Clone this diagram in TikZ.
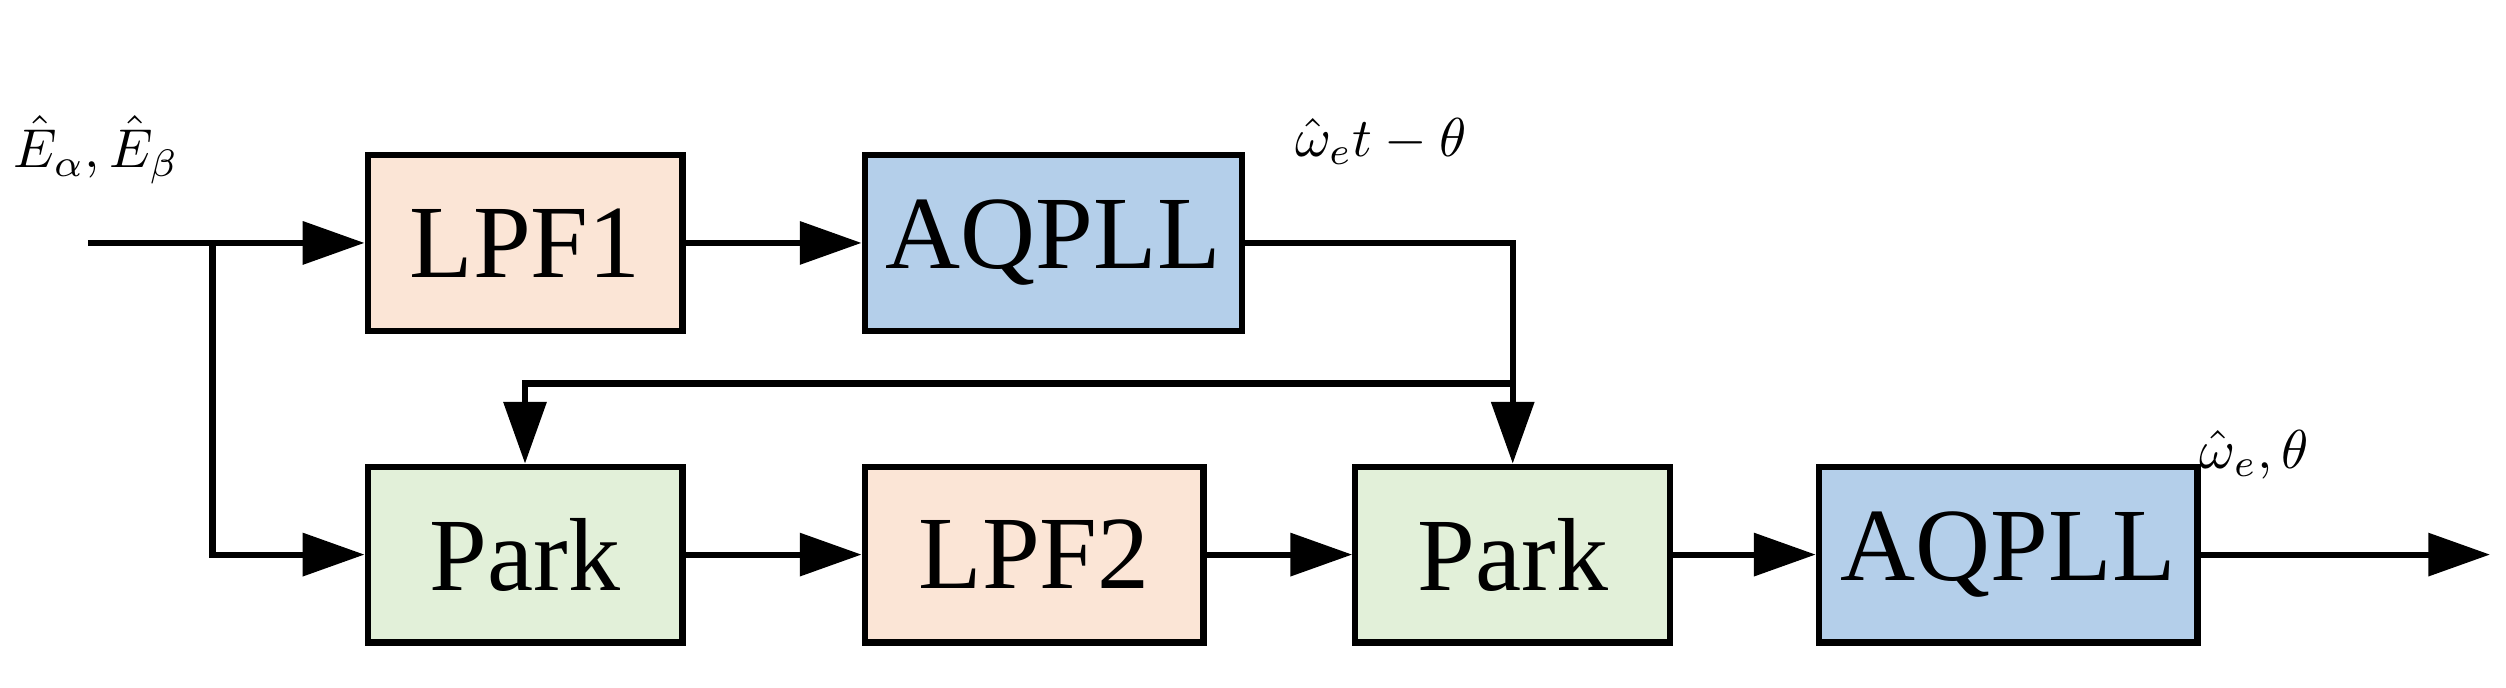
\documentclass[tikz,border=0pt]{standalone}
\usepackage{fontspec}
\setmainfont{Liberation Serif}
\usepackage{amsmath}
\usepackage{graphicx}
\usetikzlibrary{arrows.meta}
\begin{document}
\begin{tikzpicture}[x=0.02cm,y=-0.02cm,
  blk/.style={draw,line width=2.2pt,minimum width=#1*0.02cm,minimum height=2.2cm,inner sep=0pt,font=\fontsize{37}{37}\selectfont},
  ln/.style={line width=2.2pt},
  ar/.style={ln,-{Triangle[length=22pt,width=15pt]}},
  lab/.style={inner sep=0pt}]
\useasboundingbox (0,0) rectangle (1568,430);
\definecolor{pe}{HTML}{FBE5D6}
\definecolor{bl}{HTML}{B4CFEA}
\definecolor{gr}{HTML}{E2F0D9}
\node[blk=197,fill=pe] (lpf1) at (328.5,152) {LPF1};
\node[blk=236,fill=bl] (aq1) at (659,152) {AQPLL};
\node[blk=197,fill=gr] (pk1) at (328.5,347) {Park};
\node[blk=212,fill=pe] (lpf2) at (647,347) {LPF2};
\node[blk=197,fill=gr] (pk2) at (946.5,347) {Park};
\node[blk=237,fill=bl] (aq2) at (1256.5,347) {AQPLL};
\coordinate (in) at (55,152);
\coordinate (br) at (133,152);
\coordinate (c1) at (946.5,152);
\coordinate (j) at (946.5,240);
\coordinate (out) at (1558,347);
\draw[ar] (in) -- (lpf1.west);
\draw[ar] (br) |- (pk1.west);
\draw[ar] (lpf1) -- (aq1);
\draw[ar] (aq1.east) -- (c1) -- (pk2.north);
\draw[ar] (j) -| (pk1.north);
\draw[ar] (pk1) -- (lpf2);
\draw[ar] (lpf2) -- (pk2);
\draw[ar] (pk2) -- (aq2);
\draw[ar] (aq2) -- (out);
\node[lab,anchor=base west] (l1) at (8,105) {\scalebox{1.95}{$\hat{E}_\alpha,\hat{E}_\beta$}};
\node[lab,anchor=base west] (l2) at (810,98) {\scalebox{1.95}{$\hat{\omega}_e t-\theta$}};
\node[lab,anchor=base west] (l3) at (1376,293) {\scalebox{1.95}{$\hat{\omega}_e,\theta$}};
\end{tikzpicture}
\end{document}
